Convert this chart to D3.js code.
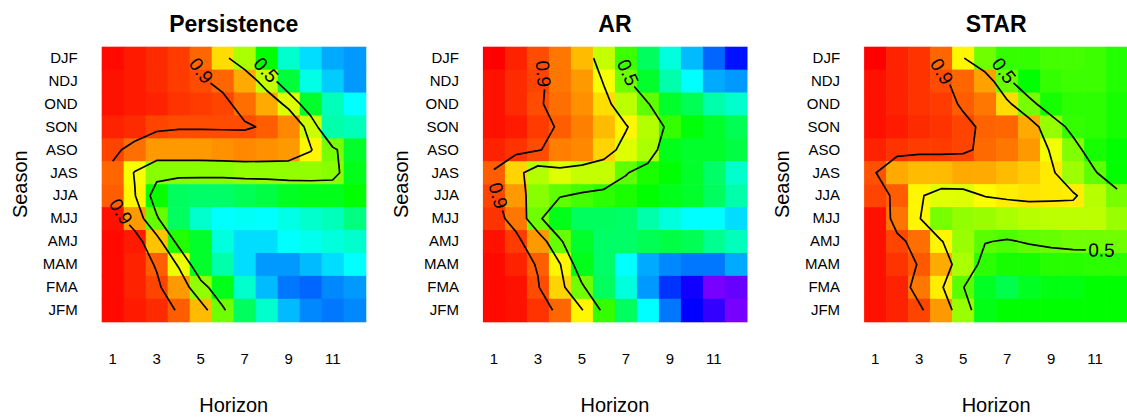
<!DOCTYPE html>
<html>
<head>
<meta charset="utf-8">
<script src="https://cdn.jsdelivr.net/npm/d3@7"></script>
<style>
  html, body { margin: 0; padding: 0; background: #ffffff; }
  svg { display: block; }
</style>
</head>
<body>
<svg id="chart" width="1127" height="418"></svg>
<script>
// ---------------- data ----------------
const seasons = ["DJF","NDJ","OND","SON","ASO","JAS","JJA","MJJ","AMJ","MAM","FMA","JFM"];
const horizons = [1,2,3,4,5,6,7,8,9,10,11,12];
const horizonTicks = [1,3,5,7,9,11];
const panelTitles = ["Persistence","AR","STAR"];
const contourLevels = [0.5, 0.7, 0.9];
const labelledLevels = [0.9, 0.5];

// rows = seasons (top to bottom), columns = horizons 1..12
const persistence = [
  [0.99, 0.97, 0.95, 0.93, 0.88, 0.74, 0.60, 0.40, 0.16, 0.06, 0.00, -0.02],
  [0.98, 0.97, 0.95, 0.93, 0.91, 0.88, 0.80, 0.63, 0.33, 0.13, 0.04, -0.02],
  [0.98, 0.97, 0.96, 0.94, 0.93, 0.92, 0.87, 0.80, 0.66, 0.35, 0.18, 0.10],
  [0.96, 0.95, 0.92, 0.91, 0.91, 0.91, 0.91, 0.89, 0.84, 0.64, 0.20, 0.18],
  [0.92, 0.87, 0.82, 0.82, 0.82, 0.83, 0.84, 0.83, 0.82, 0.71, 0.54, 0.35],
  [0.88, 0.69, 0.56, 0.56, 0.56, 0.56, 0.57, 0.57, 0.57, 0.57, 0.56, 0.37],
  [0.89, 0.71, 0.41, 0.29, 0.28, 0.28, 0.30, 0.32, 0.36, 0.37, 0.37, 0.40],
  [0.98, 0.82, 0.52, 0.29, 0.16, 0.10, 0.11, 0.10, 0.13, 0.16, 0.18, 0.25],
  [0.99, 0.97, 0.77, 0.44, 0.35, 0.14, 0.06, 0.06, 0.10, 0.12, 0.14, 0.16],
  [0.99, 0.96, 0.89, 0.68, 0.35, 0.20, 0.06, -0.02, -0.02, 0.02, 0.06, 0.10],
  [0.99, 0.96, 0.92, 0.82, 0.57, 0.37, 0.16, 0.02, -0.06, -0.08, -0.04, -0.02],
  [0.99, 0.97, 0.95, 0.89, 0.78, 0.53, 0.29, 0.16, 0.02, -0.04, -0.06, -0.04]
];

const ar = [
  [1.00, 0.96, 0.91, 0.86, 0.78, 0.63, 0.47, 0.29, 0.14, 0.02, -0.08, -0.18],
  [0.98, 0.95, 0.92, 0.86, 0.82, 0.69, 0.53, 0.35, 0.20, 0.10, 0.00, -0.02],
  [0.98, 0.95, 0.91, 0.87, 0.83, 0.74, 0.62, 0.51, 0.35, 0.30, 0.20, 0.16],
  [0.98, 0.97, 0.93, 0.89, 0.85, 0.78, 0.71, 0.61, 0.46, 0.39, 0.35, 0.30],
  [0.96, 0.94, 0.91, 0.85, 0.84, 0.75, 0.66, 0.60, 0.37, 0.35, 0.35, 0.32],
  [0.89, 0.75, 0.61, 0.66, 0.63, 0.63, 0.51, 0.43, 0.40, 0.35, 0.28, 0.16],
  [0.92, 0.82, 0.56, 0.51, 0.48, 0.45, 0.43, 0.40, 0.37, 0.35, 0.29, 0.20],
  [0.94, 0.86, 0.53, 0.37, 0.29, 0.29, 0.28, 0.20, 0.14, 0.10, 0.10, 0.06],
  [0.98, 0.93, 0.82, 0.52, 0.35, 0.28, 0.28, 0.30, 0.32, 0.30, 0.23, 0.18],
  [0.99, 0.96, 0.89, 0.71, 0.37, 0.28, 0.10, 0.00, -0.04, -0.06, -0.06, 0.00],
  [0.99, 0.98, 0.91, 0.75, 0.53, 0.29, 0.14, -0.02, -0.14, -0.22, -0.34, -0.32],
  [0.99, 0.98, 0.94, 0.88, 0.71, 0.46, 0.29, 0.10, -0.06, -0.20, -0.26, -0.34]
];

const star = [
  [1.00, 0.96, 0.94, 0.88, 0.71, 0.53, 0.46, 0.46, 0.48, 0.48, 0.47, 0.44],
  [0.98, 0.96, 0.94, 0.91, 0.88, 0.81, 0.525, 0.40, 0.46, 0.47, 0.47, 0.44],
  [0.98, 0.96, 0.94, 0.93, 0.89, 0.86, 0.74, 0.54, 0.425, 0.45, 0.45, 0.425],
  [0.98, 0.97, 0.95, 0.94, 0.92, 0.885, 0.88, 0.80, 0.575, 0.46, 0.45, 0.425],
  [0.96, 0.94, 0.93, 0.93, 0.92, 0.875, 0.86, 0.82, 0.685, 0.55, 0.425, 0.40],
  [0.905, 0.80, 0.78, 0.78, 0.80, 0.80, 0.78, 0.76, 0.725, 0.585, 0.51, 0.40],
  [0.92, 0.89, 0.71, 0.665, 0.66, 0.705, 0.72, 0.73, 0.725, 0.72, 0.615, 0.54],
  [0.98, 0.865, 0.71, 0.54, 0.57, 0.58, 0.60, 0.615, 0.62, 0.62, 0.62, 0.58],
  [0.98, 0.92, 0.87, 0.71, 0.58, 0.505, 0.49, 0.51, 0.52, 0.53, 0.53, 0.53],
  [0.98, 0.94, 0.895, 0.80, 0.60, 0.45, 0.425, 0.425, 0.445, 0.445, 0.45, 0.45],
  [0.98, 0.96, 0.86, 0.72, 0.505, 0.36, 0.31, 0.36, 0.38, 0.38, 0.40, 0.40],
  [0.98, 0.96, 0.92, 0.82, 0.58, 0.375, 0.40, 0.40, 0.40, 0.40, 0.40, 0.40]
];

const panelData = [persistence, ar, star];

// ---------------- layout ----------------
const svg = d3.select("#chart");
const FONT = "'Liberation Sans', Arial, Helvetica, sans-serif";
const W = 264, H = 275, TOP = 46.7, LEFT0 = 101.7, STEP = 381.2;
const NX = horizons.length, NY = seasons.length;
const LABEL_FS = 19;

// rainbow (HSV) colour scale: high skill red -> low skill violet
const hueScale = d3.scaleLinear().domain([1, -0.375]).range([0, 275]).clamp(true);
const colour = v => d3.hsl(hueScale(v), 1, 0.5).toString();

function endClass(p) {
  const e = 1e-6;
  if (Math.abs(p[1] - 0.5) < e) return 0;        // top
  if (Math.abs(p[0] - 0.5) < e) return 1;        // left
  if (Math.abs(p[0] - (NX - 0.5)) < e) return 2; // right
  if (Math.abs(p[1] - (NY - 0.5)) < e) return 3; // bottom
  return 4;
}

function ringToLines(ring) {
  let pts = ring.slice(0, -1);
  const isB = p => p[0] <= 0 || p[0] >= NX || p[1] <= 0 || p[1] >= NY;
  const b = pts.findIndex(isB);
  if (b < 0) return [{ pts: ring.slice(), closed: true }];
  pts = pts.slice(b).concat(pts.slice(0, b));
  const out = [];
  let cur = [];
  for (const p of pts) {
    if (isB(p)) { if (cur.length > 1) out.push({ pts: cur, closed: false }); cur = []; }
    else cur.push(p);
  }
  if (cur.length > 1) out.push({ pts: cur, closed: false });
  return out;
}

panelData.forEach((values, i) => {
  const x0 = LEFT0 + STEP * i;
  const g = svg.append("g");

  const x = d3.scaleBand().domain(horizons).range([x0, x0 + W]);
  const y = d3.scaleBand().domain(seasons).range([TOP, TOP + H]);

  const cells = values.flatMap((row, r) => row.map((v, c) => ({ s: seasons[r], h: horizons[c], v })));
  g.append("g").selectAll("rect").data(cells).join("rect")
    .attr("x", d => x(d.h))
    .attr("y", d => y(d.s))
    .attr("width", x.bandwidth() + 0.6)
    .attr("height", y.bandwidth() + 0.6)
    .attr("fill", d => colour(d.v));

  // contours in grid coordinates: value (col, row) sits at (col+0.5, row+0.5)
  const gx = d3.scaleLinear().domain([0, NX]).range([x0, x0 + W]);
  const gy = d3.scaleLinear().domain([0, NY]).range([TOP, TOP + H]);
  const contours = d3.contours().size([NX, NY]).thresholds(contourLevels)(values.flat());
  const lineGen = d3.line();
  const cg = g.append("g");
  const lg = g.append("g");

  contours.forEach(c => {
    const labelled = labelledLevels.includes(c.value);
    c.coordinates.forEach(poly => poly.forEach(ring => {
      ringToLines(ring).forEach(seg => {
        let pts = seg.pts;
        if (!seg.closed) {
          const a = endClass(pts[0]), b = endClass(pts[pts.length - 1]);
          if (b < a) pts = pts.slice().reverse();
        }
        let px = pts.map(p => [gx(p[0]), gy(p[1])]);
        if (labelled && !seg.closed) {
          const t = lg.append("text")
            .attr("font-family", FONT).attr("font-size", LABEL_FS)
            .attr("fill", "#000").attr("text-anchor", "middle").attr("dy", "0.35em")
            .text(String(c.value));
          const w = t.node().getComputedTextLength();
          const L = w + 5;
          let acc = 0, cut = null, idx = -1;
          for (let k = 1; k < px.length; k++) {
            const dx = px[k][0] - px[k-1][0], dy = px[k][1] - px[k-1][1];
            const sl = Math.hypot(dx, dy);
            if (acc + sl >= L) {
              const f = (L - acc) / sl;
              cut = [px[k-1][0] + f * dx, px[k-1][1] + f * dy];
              idx = k; break;
            }
            acc += sl;
          }
          if (cut) {
            const a0 = px[0];
            let ang = Math.atan2(cut[1] - a0[1], cut[0] - a0[0]) * 180 / Math.PI;
            if (ang > 90) ang -= 180;
            if (ang <= -90) ang += 180;
            const cx = (a0[0] + cut[0]) / 2, cy = (a0[1] + cut[1]) / 2;
            t.attr("transform", `translate(${cx},${cy}) rotate(${ang})`);
            px = [cut].concat(px.slice(idx));
          } else {
            t.remove();
          }
        }
        cg.append("path")
          .attr("d", lineGen(px) + (seg.closed ? "Z" : ""))
          .attr("fill", "none")
          .attr("stroke", "#000")
          .attr("stroke-width", 1.7)
          .attr("stroke-linejoin", "round")
          .attr("stroke-linecap", "butt");
      });
    }));
  });

  // axes (no ticks, no axis lines)
  const ya = g.append("g").attr("transform", `translate(${x0},0)`)
    .call(d3.axisLeft(y).tickSize(0).tickPadding(24));
  ya.select(".domain").remove();
  ya.attr("font-family", FONT).attr("font-size", 15);
  ya.selectAll("text").attr("fill", "#000");

  const xa = g.append("g").attr("transform", `translate(0,${TOP + H})`)
    .call(d3.axisBottom(x).tickValues(horizonTicks).tickSize(0).tickPadding(31.6));
  xa.select(".domain").remove();
  xa.attr("font-family", FONT).attr("font-size", 15);
  xa.selectAll("text").attr("fill", "#000");

  // titles
  g.append("text")
    .attr("x", x0 + W / 2).attr("y", 31.7)
    .attr("text-anchor", "middle")
    .attr("font-family", FONT).attr("font-size", 23).attr("font-weight", "bold")
    .text(panelTitles[i]);

  g.append("text")
    .attr("x", x0 + W / 2).attr("y", 411.7)
    .attr("text-anchor", "middle")
    .attr("font-family", FONT).attr("font-size", 20)
    .text("Horizon");

  g.append("text")
    .attr("transform", `translate(${x0 - 74.7},${TOP + H / 2}) rotate(-90)`)
    .attr("text-anchor", "middle")
    .attr("font-family", FONT).attr("font-size", 20)
    .text("Season");
});
</script>
</body>
</html>
